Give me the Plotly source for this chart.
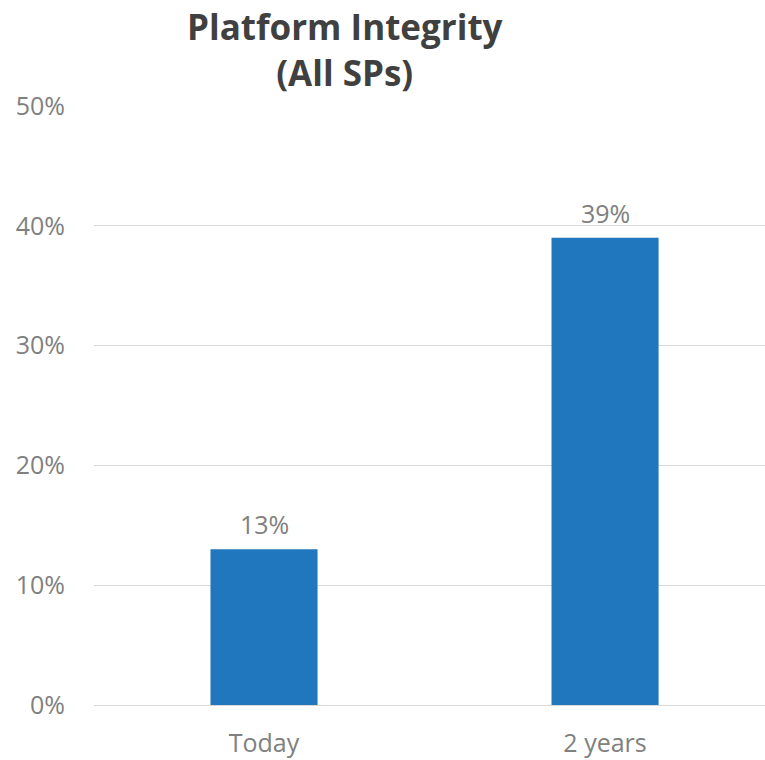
import plotly.graph_objects as go

categories = ["Today", "2 years"]
values = [13, 39]
y_ticks = [0, 10, 20, 30, 40, 50]
y_tick_labels = [f"{t}%" for t in y_ticks]

label_font = dict(family="Open Sans", size=25, color="#808080")

fig = go.Figure(
    go.Bar(
        x=categories,
        y=values,
        width=0.314,
        marker=dict(color="#2177BD", line=dict(width=0)),
        hoverinfo="x+y",
    )
)

# value labels above each bar
for cat, val in zip(categories, values):
    fig.add_annotation(
        x=cat,
        y=val,
        text=f"{val}%",
        xanchor="center",
        yanchor="middle",
        yshift=25,
        showarrow=False,
        font=label_font,
    )

fig.add_annotation(
    text="<b>Platform Integrity<br>(All SPs)</b>",
    xref="paper",
    yref="paper",
    x=(345 - 94) / 671,
    y=(705 - 50) / 599,
    xanchor="center",
    yanchor="middle",
    showarrow=False,
    font=dict(family="Open Sans", size=35, color="#404040"),
)

fig.update_layout(
    width=765,
    height=760,
    margin=dict(l=94, r=0, t=106, b=55),
    paper_bgcolor="white",
    plot_bgcolor="white",
    showlegend=False,
    xaxis=dict(
        range=[-0.4985, 1.469],
        tickfont=label_font,
        showgrid=False,
        showline=False,
        ticks="",
        ticklabelstandoff=21,
    ),
    yaxis=dict(
        range=[0, 50],
        tickvals=y_ticks,
        ticktext=y_tick_labels,
        tickfont=label_font,
        showgrid=True,
        gridcolor="#D9D9D9",
        gridwidth=1,
        zeroline=True,
        zerolinecolor="#D9D9D9",
        zerolinewidth=1,
        showline=False,
        ticks="",
        ticklabelstandoff=28,
    ),
)

fig.write_html("out.html")
